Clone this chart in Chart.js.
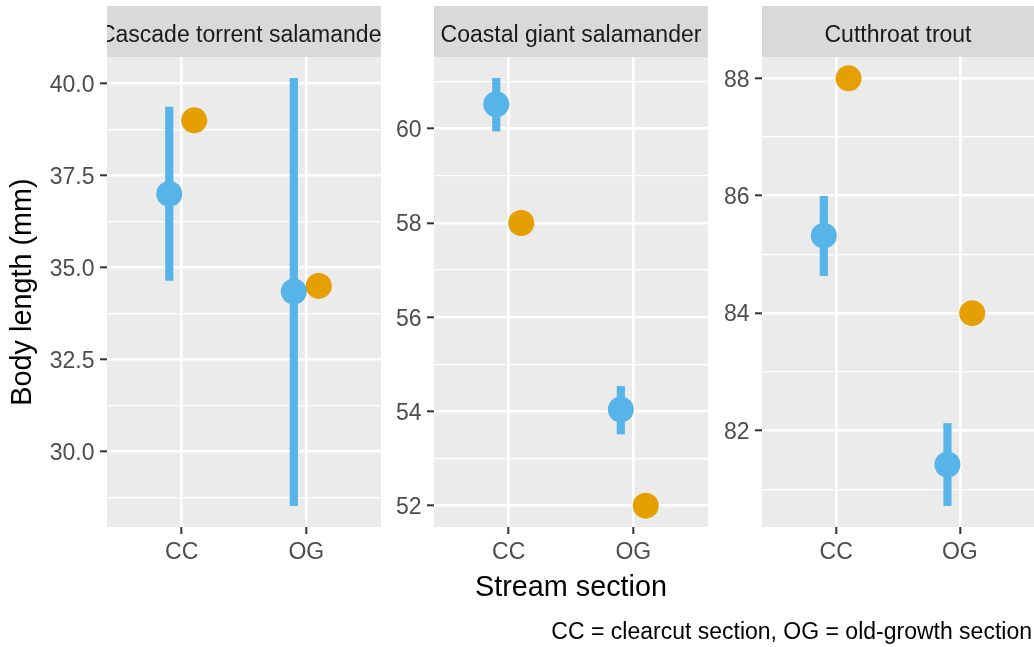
<!DOCTYPE html>
<html><head><meta charset="utf-8">
<script src="https://cdn.jsdelivr.net/npm/chart.js@4"></script>
<style>
html,body{margin:0;padding:0;background:#fff;}
#wrap{position:relative;width:1034px;height:647px;overflow:hidden;font-family:"Liberation Sans",Arial,sans-serif;}
.cv{position:absolute;top:0;height:647px;}
#caption{position:absolute;right:2px;top:620px;font-size:23px;line-height:23px;color:#000;white-space:nowrap;}
</style></head><body>
<div id="wrap">
<div class="cv" style="left:0;width:381px"><canvas id="c0"></canvas></div>
<div class="cv" style="left:381px;width:327px"><canvas id="c1"></canvas></div>
<div class="cv" style="left:708px;width:326px"><canvas id="c2"></canvas></div>
<div id="caption">CC = clearcut section, OG = old-growth section</div>
</div>
<script>
const categories = ['CC', 'OG'];
const species = ['Cascade torrent salamander', 'Coastal giant salamander', 'Cutthroat trout'];

const cascadeMean = [37.0, 34.35];
const cascadeLow = [34.65, 28.53];
const cascadeHigh = [39.36, 40.14];
const cascadeObserved = [39.0, 34.5];

const coastalMean = [60.52, 54.04];
const coastalLow = [59.95, 53.52];
const coastalHigh = [61.07, 54.53];
const coastalObserved = [58.0, 52.0];

const troutMean = [85.32, 81.42];
const troutLow = [84.64, 80.72];
const troutHigh = [85.99, 82.12];
const troutObserved = [88.0, 84.0];

const cascadeTicks = [30.0, 32.5, 35.0, 37.5, 40.0];
const coastalTicks = [52, 54, 56, 58, 60];
const troutTicks = [82, 84, 86, 88];

const FONT = '"Liberation Sans", Arial, sans-serif';
Chart.defaults.font.family = FONT;

const panelPlugin = {
  id: 'panel',
  beforeDraw(chart, args, o) {
    const {ctx, chartArea: a} = chart;
    ctx.save();
    ctx.fillStyle = '#EBEBEB';
    ctx.fillRect(a.left, a.top, a.right - a.left, a.bottom - a.top);
    ctx.fillStyle = '#D9D9D9';
    ctx.fillRect(a.left, 6, a.right - a.left, a.top - 6);
    ctx.beginPath();
    ctx.rect(a.left, 6, a.right - a.left, a.top - 6);
    ctx.clip();
    ctx.fillStyle = '#1A1A1A';
    ctx.font = '23px ' + FONT;
    ctx.textAlign = 'center';
    ctx.textBaseline = 'alphabetic';
    ctx.fillText(o.label, (a.left + a.right) / 2, 41.5);
    ctx.restore();
  }
};

function makePanel(id, label, mean, low, high, obs, majorTicks, decimals, axisWidth, yTitle, xTitle) {
  const all = [...mean, ...low, ...high, ...obs];
  const lo = Math.min(...all), hi = Math.max(...all);
  const pad = (hi - lo) * 0.05;
  const ymin = lo - pad, ymax = hi + pad;
  const step = majorTicks[1] - majorTicks[0];
  const tickObjs = majorTicks.map(v => ({value: v, minor: false}));
  for (let k = -2; k <= majorTicks.length + 1; k++) {
    const v = majorTicks[0] + (k + 0.5) * step;
    if (v >= ymin && v <= ymax) tickObjs.push({value: v, minor: true});
  }
  tickObjs.sort((a, b) => a.value - b.value);

  const isMinor = c => c.tick && c.tick.minor;

  return new Chart(document.getElementById(id), {
    type: 'scatter',
    data: {
      datasets: [
        {
          type: 'scatter',
          data: categories.map((c, i) => ({x: i + 1 - 0.1, y: mean[i]})),
          backgroundColor: '#56B4E9', borderWidth: 0, pointRadius: 13, pointHoverRadius: 13, order: 0
        },
        {
          type: 'scatter',
          data: categories.map((c, i) => ({x: i + 1 + 0.1, y: obs[i]})),
          backgroundColor: '#E69F00', borderWidth: 0, pointRadius: 13, pointHoverRadius: 13, order: 0
        },
        {
          type: 'bar',
          data: categories.map((c, i) => ({x: i + 1 - 0.1, y: [low[i], high[i]]})),
          backgroundColor: '#56B4E9', borderWidth: 0, barThickness: 7.5, borderSkipped: false, order: 1
        }
      ]
    },
    options: {
      responsive: true,
      maintainAspectRatio: false,
      animation: false,
      events: [],
      layout: {autoPadding: false, padding: {top: 57, left: 0, right: 0, bottom: 0}},
      plugins: {legend: {display: false}, tooltip: {enabled: false}, panel: {label: label}},
      scales: {
        x: {
          type: 'linear', min: 0.4, max: 2.6, bounds: 'data', offset: false,
          afterBuildTicks: s => { s.ticks = categories.map((c, i) => ({value: i + 1})); },
          ticks: {
            callback: v => categories[Math.round(v) - 1] ?? '',
            color: '#4D4D4D', font: {size: 23}, padding: 5, maxRotation: 0, autoSkip: false
          },
          grid: {offset: false, color: '#FFFFFF', lineWidth: 2.6, tickColor: '#333333', tickWidth: 2, tickLength: 7, drawTicks: true},
          border: {display: false},
          title: xTitle ? {display: true, text: xTitle, color: '#000000', font: {size: 28.8}, padding: {top: 0, bottom: 41.5}} : {display: false},
          afterFit: s => { s.height = 120; s.paddingLeft = 0; s.paddingRight = 0; }
        },
        y: {
          type: 'linear', min: ymin, max: ymax, bounds: 'data', beginAtZero: false,
          afterBuildTicks: s => { s.ticks = tickObjs.map(t => ({value: t.value, minor: t.minor})); },
          ticks: {
            callback: (v, i, ticks) => ticks[i].minor ? '' : v.toFixed(decimals),
            color: '#4D4D4D', font: {size: 23}, padding: 5.5, autoSkip: false, labelOffset: 2
          },
          grid: {
            color: '#FFFFFF',
            lineWidth: c => isMinor(c) ? 1.3 : 2.6,
            tickColor: c => isMinor(c) ? 'rgba(0,0,0,0)' : '#333333',
            tickWidth: 2, tickLength: 7, drawTicks: true
          },
          border: {display: false},
          title: yTitle ? {display: true, text: yTitle, color: '#000000', font: {size: 28.8}, padding: {top: 6, bottom: 0}} : {display: false},
          afterFit: s => { s.width = axisWidth; }
        }
      }
    },
    plugins: [panelPlugin]
  });
}

makePanel('c0', species[0], cascadeMean, cascadeLow, cascadeHigh, cascadeObserved, cascadeTicks, 1, 107, 'Body length (mm)', null);
makePanel('c1', species[1], coastalMean, coastalLow, coastalHigh, coastalObserved, coastalTicks, 0, 53, null, 'Stream section');
makePanel('c2', species[2], troutMean, troutLow, troutHigh, troutObserved, troutTicks, 0, 54, null, null);
</script>
</body></html>
